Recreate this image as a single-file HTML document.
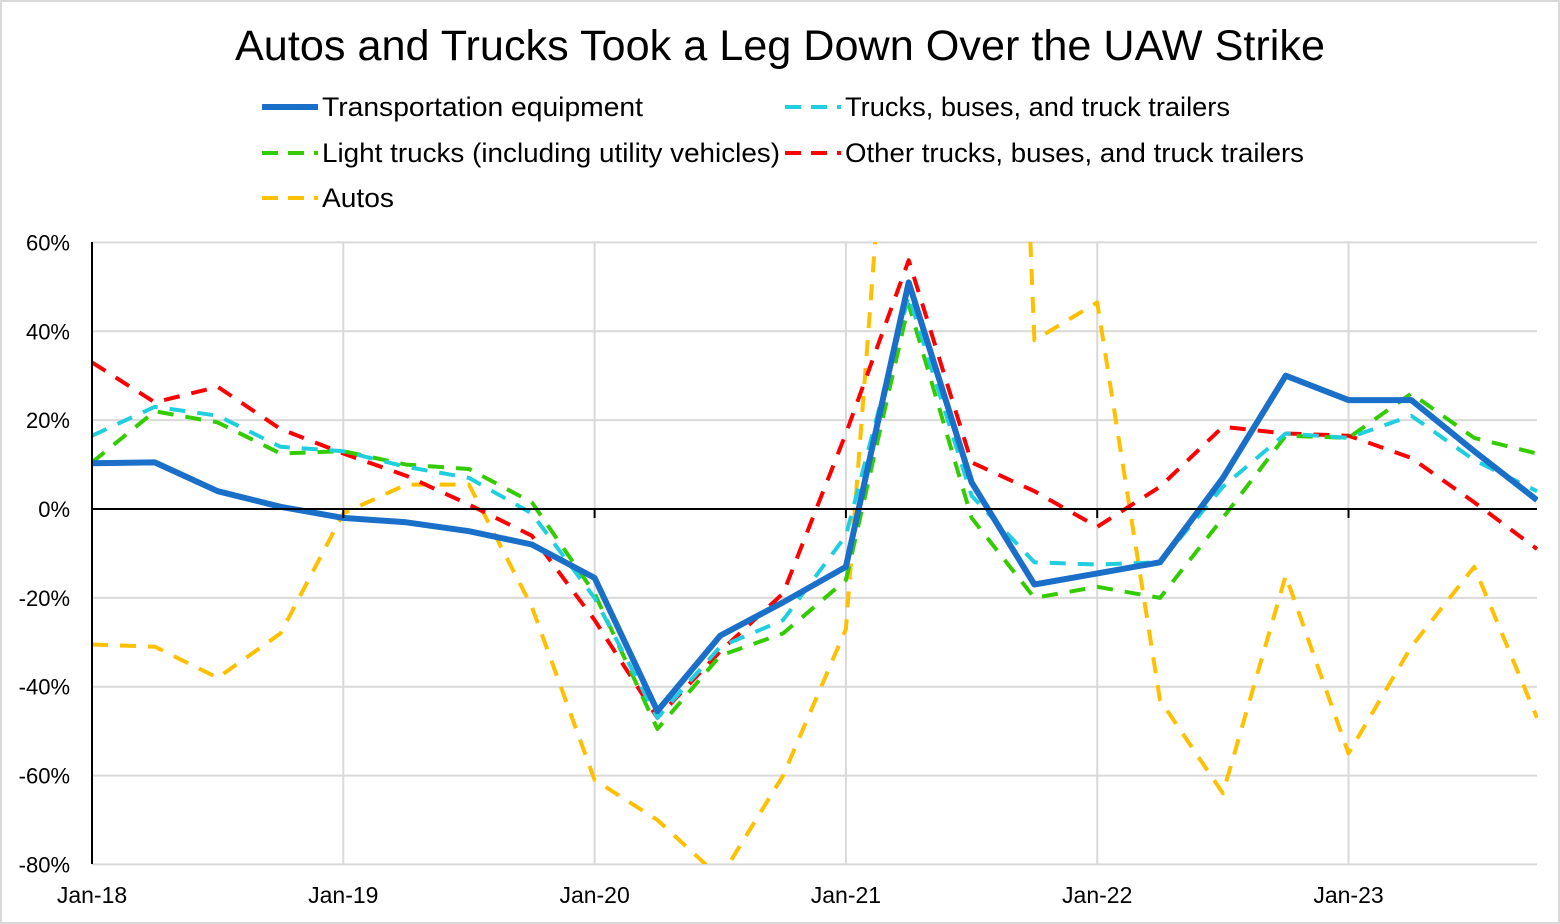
<!DOCTYPE html>
<html><head><meta charset="utf-8"><style>
body{margin:0;background:#fff;}
svg{display:block;font-family:"Liberation Sans",sans-serif;}
</style></head><body>
<svg id="chart" width="1560" height="924" xmlns="http://www.w3.org/2000/svg">
<rect x="1" y="1" width="1558" height="922" fill="#fff" stroke="#d9d9d9" stroke-width="2"/>
<text x="780" y="60" text-anchor="middle" font-size="43" textLength="1090" lengthAdjust="spacingAndGlyphs" fill="#000">Autos and Trucks Took a Leg Down Over the UAW Strike</text>
<g id="legend"></g>
<defs><clipPath id="plotclip"><rect x="92" y="242" width="1446" height="622"/></clipPath></defs>
<g id="grid"></g>
<g id="series" clip-path="url(#plotclip)"></g>
<g id="axes"></g>
</svg>
<script>
const yTicks = [60, 40, 20, 0, -20, -40, -60, -80];
const xTickLabels = ["Jan-18","Jan-19","Jan-20","Jan-21","Jan-22","Jan-23"];
const transportation = [10.3,10.5,4,0.5,-2,-3,-5,-8,-15.5,-45.5,-28.5,-21,-13,51,6,-17,-14.5,-12,7,30,24.5,24.5,13,2];
const trucksBuses = [16.5,23,21,14,13,9.5,7,-1,-20,-47,-31,-25,-6,48,3,-12,-12.5,-12,5,17,16,21,11,4];
const lightTrucks = [10.5,22,19.5,12.5,13,10,9,1.5,-19,-49.5,-33,-28,-16,46,-2,-20,-17.5,-20,-2,16.5,16,26,16,12.5];
const otherTrucks = [33,24,27.5,18,12.5,7.5,1,-6,-25,-47,-32,-19,17,56,10.5,4,-4,5,18.5,17,16.5,11.5,1.5,-9];
const autos = [-30.5,-31,-38,-28,-1,5.5,5.5,-22,-61,-70,-83,-60,-27,160,384,38,46.5,-43,-64,-15,-55,-31,-13,-47];

const NS="http://www.w3.org/2000/svg";
const x0=92, qw=(1537-92)/23;
const xq=q=>x0+q*qw;
const yv=v=>509-v*(622/140);
function mk(tag,attrs,parent){const e=document.createElementNS(NS,tag);for(const k in attrs)e.setAttribute(k,attrs[k]);parent.appendChild(e);return e;}
const grid=document.getElementById('grid'),axes=document.getElementById('axes'),ser=document.getElementById('series'),leg=document.getElementById('legend');
yTicks.forEach(t=>{
  if(t!==0){const l=mk('line',{x1:92,x2:1537,y1:yv(t),y2:yv(t),stroke:'#d9d9d9','stroke-width':2},grid);
  
  }
  const tx=mk('text',{x:70,y:yv(t)+8,'text-anchor':'end','font-size':22,fill:'#000'},axes);tx.textContent=t+'%';
  
  
});
xTickLabels.forEach((s,i)=>{
  const x=xq(i*4);
  if(i>0){const l=mk('line',{x1:x,x2:x,y1:242,y2:864,stroke:'#d9d9d9','stroke-width':2},grid);
  
  }
  const tk=mk('line',{x1:x,x2:x,y1:509,y2:518,stroke:'#000','stroke-width':2},axes);
  
  
  const tx=mk('text',{x:x,y:903,'text-anchor':'middle','font-size':23,fill:'#000'},axes);tx.textContent=s;
  
  
});
const za=mk('line',{x1:92,x2:1537,y1:509,y2:509,stroke:'#000','stroke-width':2},axes);


const ya=mk('line',{x1:92,x2:92,y1:242,y2:864,stroke:'#000','stroke-width':2},axes);


const defs=[
 {d:autos,c:'#ffc000',w:4,dash:'16,12',name:'autos-line'},
 {d:otherTrucks,c:'#ff0000',w:4,dash:'16,12',name:'other-trucks-line'},
 {d:lightTrucks,c:'#33cc00',w:4,dash:'16,12',name:'light-trucks-line'},
 {d:trucksBuses,c:'#1fcfdf',w:4,dash:'16,12',name:'trucks-buses-line'},
 {d:transportation,c:'#1a6fc9',w:6,dash:null,name:'transportation-line'}
];
defs.forEach(s=>{
  const pts=s.d.map((v,i)=>xq(i).toFixed(1)+','+yv(v).toFixed(1)).join(' ');
  const a={points:pts,fill:'none',stroke:s.c,'stroke-width':s.w,'stroke-linejoin':'round'};
  if(s.dash)a['stroke-dasharray']=s.dash;
  const p=mk('polyline',a,ser);
  
  
});
const legItems=[
 {x:262,y:107,c:'#1a6fc9',w:6,dash:null,t:'Transportation equipment',n:'legend-transportation',L:321},
 {x:785,y:107,c:'#1fcfdf',w:4,dash:'16,10',t:'Trucks, buses, and truck trailers',n:'legend-trucks-buses',L:385},
 {x:262,y:153,c:'#33cc00',w:4,dash:'16,10',t:'Light trucks (including utility vehicles)',n:'legend-light-trucks',L:458},
 {x:785,y:153,c:'#ff0000',w:4,dash:'16,10',t:'Other trucks, buses, and truck trailers',n:'legend-other-trucks',L:459},
 {x:262,y:198,c:'#ffc000',w:4,dash:'16,10',t:'Autos',n:'legend-autos',L:72}
];
legItems.forEach(it=>{
  const g=mk('g',{},leg);
  
  
  const a={x1:it.x,x2:it.x+56,y1:it.y,y2:it.y,stroke:it.c,'stroke-width':it.w};
  if(it.dash)a['stroke-dasharray']=it.dash;
  mk('line',a,g);
  const t=mk('text',{x:it.x+60,y:it.y+9,'font-size':27,fill:'#000',textLength:it.L,lengthAdjust:'spacingAndGlyphs'},g);t.textContent=it.t;
});
</script>
</body></html>
